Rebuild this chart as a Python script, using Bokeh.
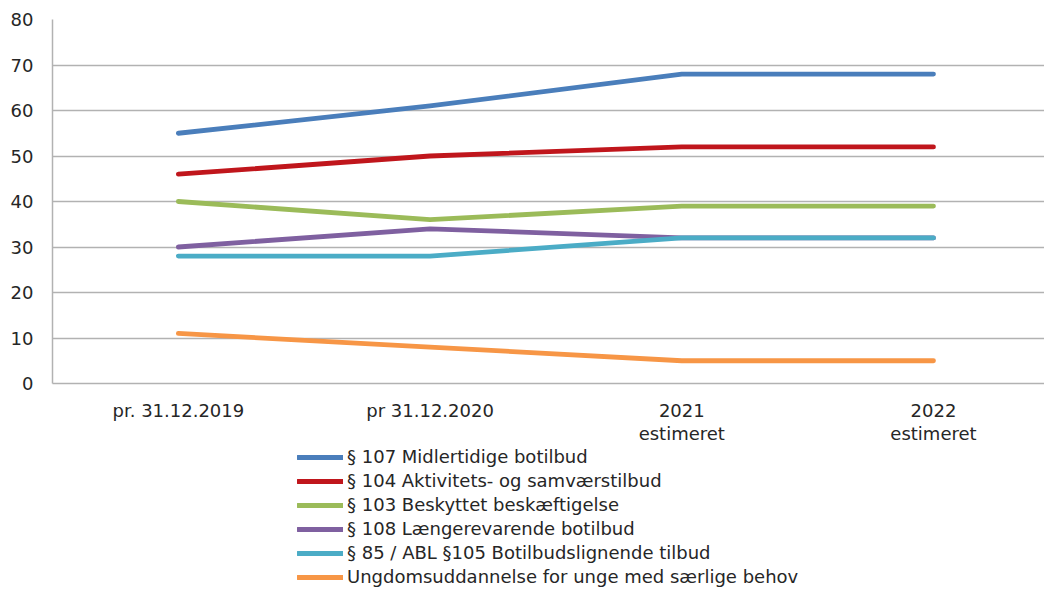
from bokeh.plotting import figure
from bokeh.layouts import column
from bokeh.models import FixedTicker, Range1d, Legend, LegendItem
from bokeh.embed import file_html
from bokeh.resources import INLINE

categories = ["pr. 31.12.2019", "pr 31.12.2020", "2021\nestimeret", "2022\nestimeret"]
series_names = [
    "§ 107 Midlertidige botilbud",
    "§ 104 Aktivitets- og samværstilbud",
    "§ 103 Beskyttet beskæftigelse",
    "§ 108 Længerevarende botilbud",
    "§ 85 / ABL §105 Botilbudslignende tilbud",
    "Ungdomsuddannelse for unge med særlige behov",
]
s107 = [55, 61, 68, 68]
s104 = [46, 50, 52, 52]
s103 = [40, 36, 39, 39]
s108 = [30, 34, 32, 32]
s85 = [28, 28, 32, 32]
ungdom = [11, 8, 5, 5]
series_values = [s107, s104, s103, s108, s85, ungdom]
colors = ["#4a7ebb", "#c0161c", "#9bbb59", "#7f60a0", "#4bacc6", "#f79646"]
y_ticks = [0, 10, 20, 30, 40, 50, 60, 70, 80]

FONT = "DejaVu Sans"
TXT = "#262626"
FS = "18px"

xs = list(range(len(categories)))

p = figure(width=1044, height=447, output_backend="svg", toolbar_location=None,
           x_range=Range1d(-0.5, 3.441), y_range=Range1d(0, 80),
           min_border_left=52, min_border_top=19, min_border_right=0,
           min_border_bottom=63)
p.outline_line_color = None
p.background_fill_color = "white"
p.border_fill_color = "white"

for vals, col in zip(series_values, colors):
    p.line(xs, vals, line_color=col, line_width=4.8, line_cap="round", line_join="round")

p.xgrid.visible = False
p.ygrid.grid_line_color = "#b2b2b2"
p.ygrid.grid_line_width = 1.5
p.ygrid.ticker = FixedTicker(ticks=y_ticks)

p.yaxis.ticker = FixedTicker(ticks=y_ticks)
p.yaxis.axis_line_color = "#b2b2b2"
p.yaxis.axis_line_width = 1.5
p.yaxis.major_tick_line_color = None
p.yaxis.minor_tick_line_color = None
p.yaxis.major_label_text_font = FONT
p.yaxis.major_label_text_font_size = FS
p.yaxis.major_label_text_color = TXT
p.yaxis.major_label_standoff = 13

p.xaxis.ticker = FixedTicker(ticks=xs)
p.xaxis.major_label_overrides = {i: c for i, c in zip(xs, categories)}
p.xaxis.axis_line_color = "#b2b2b2"
p.xaxis.axis_line_width = 1.5
p.xaxis.major_tick_line_color = None
p.xaxis.minor_tick_line_color = None
p.xaxis.major_label_text_font = FONT
p.xaxis.major_label_text_font_size = FS
p.xaxis.major_label_text_color = TXT
p.xaxis.major_label_standoff = 10
p.xaxis.major_label_text_line_height = 1.13

# legend figure (series drawn outside its visible range; only the legend shows)
pl = figure(width=1044, height=143, output_backend="svg", toolbar_location=None,
            x_range=Range1d(100, 101), y_range=Range1d(0, 1),
            min_border=0)
pl.axis.visible = False
pl.grid.visible = False
pl.outline_line_color = None
pl.background_fill_color = "white"
pl.border_fill_color = "white"

items = []
for name, vals, col in zip(series_names, series_values, colors):
    r = pl.line(xs, vals, line_color=col, line_width=4.8, line_cap="round")
    items.append(LegendItem(label=name, renderers=[r]))

legend = Legend(items=items, orientation="vertical",
                label_text_font=FONT, label_text_font_size=FS, label_text_color=TXT,
                glyph_width=46, glyph_height=20, spacing=3, label_standoff=4,
                label_height=20, padding=0, margin=0,
                border_line_color=None, background_fill_alpha=0)
legend.location = (245, 3)
pl.add_layout(legend, "center")

layout = column(p, pl, spacing=0)
open("out.html", "w").write(file_html(layout, INLINE))
